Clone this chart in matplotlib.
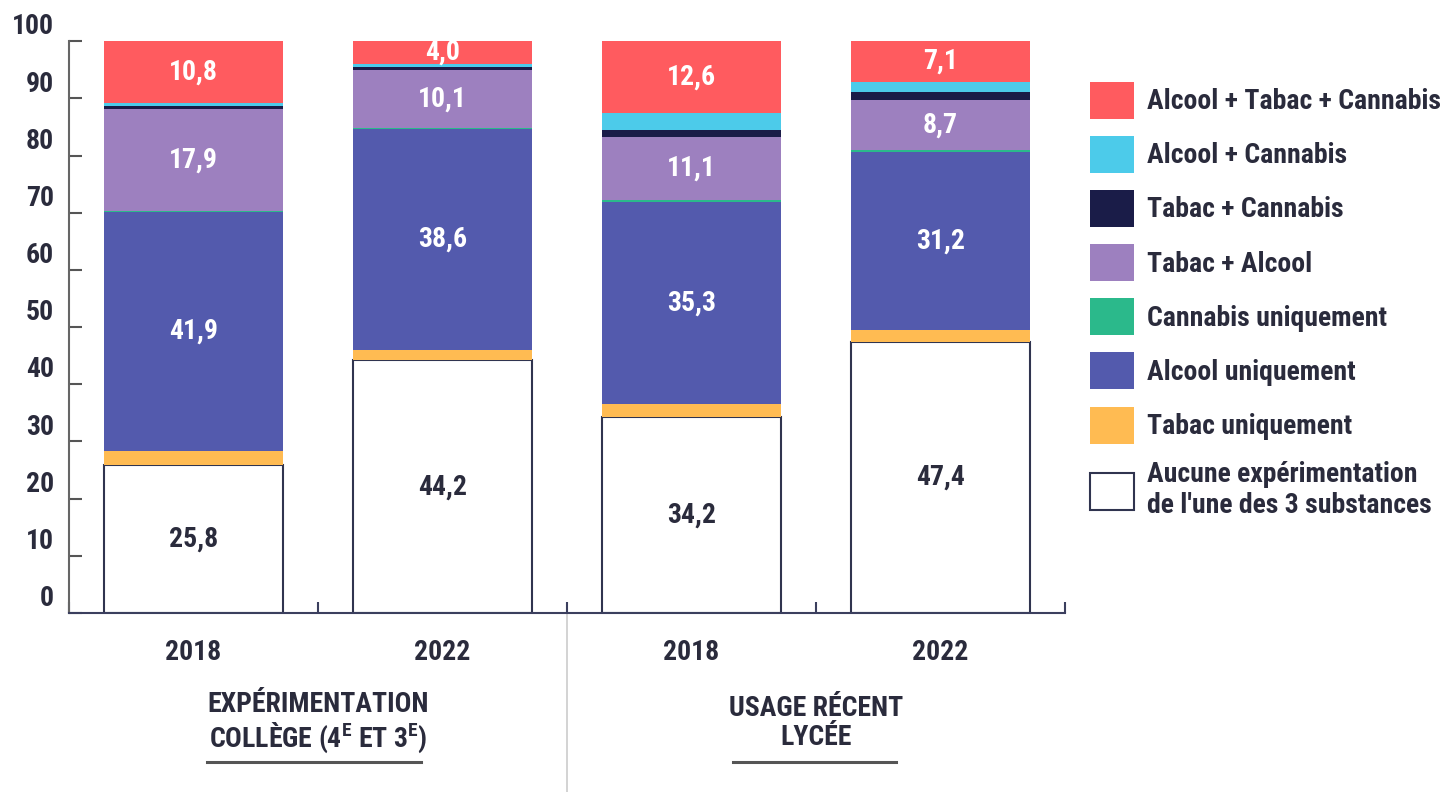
import matplotlib
matplotlib.use('Agg')
import numpy as np
import matplotlib.pyplot as plt
from matplotlib.transforms import ScaledTranslation

plt.rcParams['font.family'] = ['Roboto Condensed', 'Noto Sans ExtraCondensed', 'Noto Sans Condensed',
                               'Liberation Sans Narrow', 'DejaVu Sans']
plt.rcParams['font.stretch'] = 'condensed'
plt.rcParams['font.weight'] = 'bold'

years = ['2018', '2022', '2018', '2022']
groups = ['EXPÉRIMENTATION\nCOLLÈGE (4$^{\\mathregular{E}}$ ET 3$^{\\mathregular{E}}$)',
          'USAGE RÉCENT\nLYCÉE']

# stacked from bottom to top
aucune = [25.8, 44.2, 34.2, 47.4]
tabac = [2.5, 1.8, 2.3, 2.1]
alcool = [41.9, 38.6, 35.3, 31.2]
cannabis = [0.1, 0.3, 0.4, 0.3]
tabac_alcool = [17.9, 10.1, 11.1, 8.7]
tabac_cannabis = [0.5, 0.4, 1.2, 1.5]
alcool_cannabis = [0.5, 0.6, 2.9, 1.7]
atc = [10.8, 4.0, 12.6, 7.1]

series = [
    ("Aucune expérimentation\nde l'une des 3 substances", aucune, '#ffffff'),
    ('Tabac uniquement', tabac, '#ffbb52'),
    ('Alcool uniquement', alcool, '#535aad'),
    ('Cannabis uniquement', cannabis, '#2bb98b'),
    ('Tabac + Alcool', tabac_alcool, '#9d80bf'),
    ('Tabac + Cannabis', tabac_cannabis, '#1a1c48'),
    ('Alcool + Cannabis', alcool_cannabis, '#4ccbea'),
    ('Alcool + Tabac + Cannabis', atc, '#ff5b5f'),
]
labelled = ["Aucune expérimentation\nde l'une des 3 substances", 'Alcool uniquement',
            'Tabac + Alcool', 'Alcool + Tabac + Cannabis']

txt = '#2a2b3c'
fs = 20

fig = plt.figure(figsize=(14.53, 7.92), dpi=100)
ax = fig.add_axes([0.0475, 0.226, 0.6855, 0.722])

x = np.arange(len(years))
bottom = np.zeros(len(years))
handles = []
for name, vals, col in series:
    vals = np.array(vals)
    if col == '#ffffff':
        b = ax.bar(x, vals, 0.72, bottom=bottom, color=col, edgecolor='#30344f', linewidth=1.5)
    else:
        b = ax.bar(x, vals, 0.72, bottom=bottom, color=col, linewidth=0)
    handles.append(b)
    if name in labelled:
        for xi, v, b0 in zip(x, vals, bottom):
            ax.text(xi, b0 + v / 2, f'{v:.1f}'.replace('.', ','), ha='center', va='center',
                    fontsize=fs, color=txt if col == '#ffffff' else 'white')
    bottom += vals

ax.set_xlim(-0.5, 3.5)
ax.set_ylim(0, 100)
for s in ['top', 'right']:
    ax.spines[s].set_visible(False)
ax.spines['left'].set_color('#666666')
ax.spines['bottom'].set_color('#3b3f5e')
ax.spines['left'].set_linewidth(1.5)
ax.spines['bottom'].set_linewidth(1.5)

ax.set_yticks(np.arange(0, 101, 10))
ax.tick_params(axis='y', direction='in', length=9, width=1.5, color='#555555',
               pad=11, labelsize=fs, labelcolor=txt)
off = ScaledTranslation(0, 12.5 / 72, fig.dpi_scale_trans)
for lbl in ax.get_yticklabels():
    lbl.set_transform(lbl.get_transform() + off)

ax.set_xticks(np.arange(-0.5, 3.6, 1))
ax.set_xticklabels([])
ax.tick_params(axis='x', which='major', direction='in', length=8, width=1.5, color='#3b3f5e')
ax.set_xticks(x, minor=True)
ax.set_xticklabels(years, minor=True)
ax.tick_params(axis='x', which='minor', length=0, pad=19, labelsize=fs, labelcolor=txt)

tr = ax.get_xaxis_transform()
for gx, g in zip([0.5, 2.5], groups):
    ax.text(gx, -0.192, g, transform=tr, ha='center', va='center', fontsize=fs,
            color=txt, linespacing=1.1)
ax.plot([0.054, 0.914], [-0.26, -0.26], transform=tr, color='#555555', lw=2.2, clip_on=False)
ax.plot([2.167, 2.82], [-0.26, -0.26], transform=tr, color='#555555', lw=2.2, clip_on=False)
ax.plot([1.5, 1.5], [0, -0.32], transform=tr, color='#cccccc', lw=1.2, clip_on=False)

fig.legend(handles[::-1], [s[0] for s in series][::-1], loc='upper left',
           bbox_to_anchor=(0.750, 0.897), frameon=False, fontsize=fs,
           handlelength=1.6, handleheight=1.67, handletextpad=0.45,
           labelspacing=0.62, borderpad=0, borderaxespad=0, labelcolor=txt)

fig.savefig('out.png', dpi=100)
